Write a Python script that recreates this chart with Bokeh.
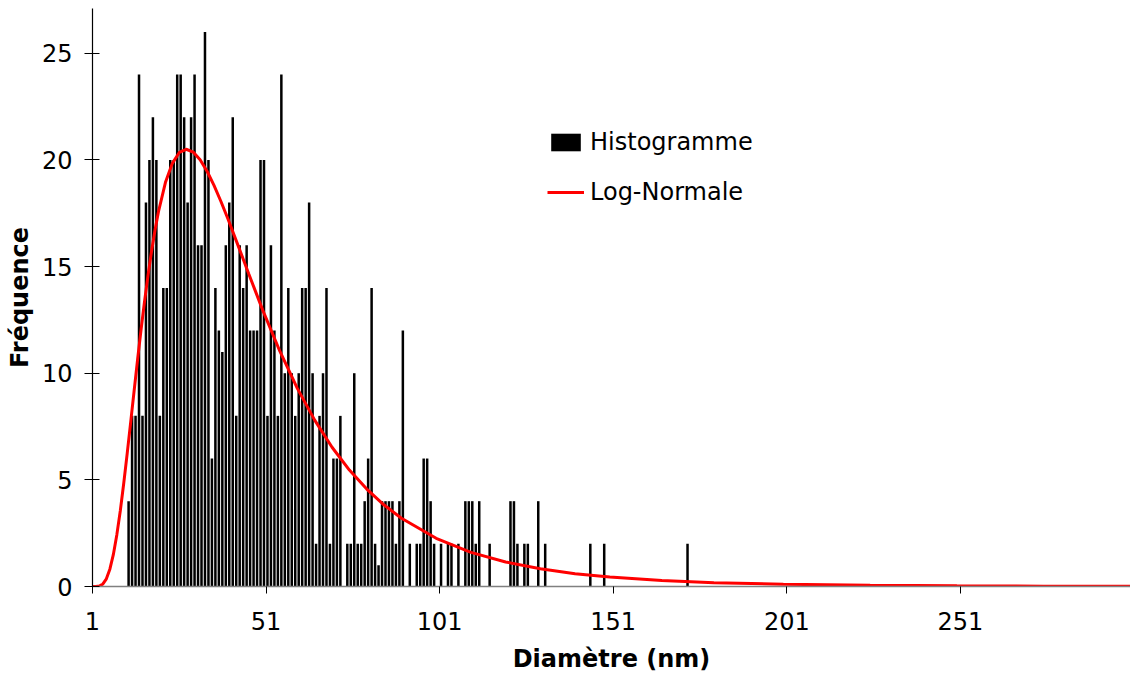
from bokeh.plotting import figure
from bokeh.models import Range1d, FixedTicker, Legend, LegendItem
from bokeh.embed import file_html
from bokeh.resources import INLINE

# Histogram: diameter (nm) and frequency
diametre = list(range(11, 173))
frequence = [
    4, 8, 8, 24, 8, 18, 20, 22, 20, 8,          # 11-20
    14, 14, 20, 20, 24, 24, 22, 18, 22, 24,     # 21-30
    16, 16, 26, 20, 6, 14, 12, 11, 16, 18,      # 31-40
    22, 8, 16, 14, 16, 12, 12, 12, 20, 20,      # 41-50
    8, 16, 12, 8, 24, 10, 14, 10, 8, 10,        # 51-60
    14, 14, 18, 10, 2, 8, 10, 14, 2, 6,         # 61-70
    6, 8, 0, 2, 2, 10, 2, 2, 4, 6,              # 71-80
    14, 2, 1, 4, 4, 4, 4, 2, 4, 12,             # 81-90
    0, 2, 0, 2, 2, 6, 6, 4, 2, 0,               # 91-100
    2, 0, 2, 2, 0, 2, 0, 4, 4, 4,               # 101-110
    2, 4, 0, 0, 2, 0, 0, 0, 0, 0,               # 111-120
    4, 4, 2, 0, 2, 2, 0, 0, 4, 0,               # 121-130
    2, 0, 0, 0, 0, 0, 0, 0, 0, 0,               # 131-140
    0, 0, 0, 2, 0, 0, 0, 2, 0, 0,               # 141-150
    0, 0, 0, 0, 0, 0, 0, 0, 0, 0,               # 151-160
    0, 0, 0, 0, 0, 0, 0, 0, 0, 0,               # 161-170
    0, 2,                                       # 171-172
]

# Log-normal curve, points
courbe_d = [1, 2, 3, 4, 5, 6, 7, 8, 9, 10, 11, 12, 13, 14, 15, 16, 17, 18, 19, 20,
            22, 24, 26, 28, 30, 32, 34, 36, 38, 40, 43, 46, 50, 55, 60, 65, 70, 75,
            80, 85, 90, 100, 110, 120, 130, 140, 150, 165, 180, 200, 225, 250, 275, 300]
courbe_v = [0.0, 0.0, 0.02, 0.12, 0.36, 0.81, 1.49, 2.42, 3.54, 4.84, 6.24, 7.71, 9.19,
            10.66, 12.06, 13.38, 14.6, 15.71, 16.7, 17.57, 18.94, 19.84, 20.35, 20.5,
            20.37, 20.01, 19.47, 18.81, 18.05, 17.24, 15.96, 14.66, 12.97, 11.02, 9.29,
            7.8, 6.53, 5.46, 4.57, 3.82, 3.2, 2.26, 1.6, 1.15, 0.83, 0.6, 0.44, 0.28,
            0.18, 0.11, 0.055, 0.03, 0.017, 0.01]

x_ticks = [1, 51, 101, 151, 201, 251]
y_ticks = [0, 5, 10, 15, 20, 25]

FONT = "DejaVu Sans"

p = figure(width=1130, height=675, output_backend="svg", toolbar_location=None,
           x_range=Range1d(1, 300), y_range=Range1d(0, 27.1),
           min_border_left=92, min_border_right=0, min_border_top=8, min_border_bottom=89)
p.outline_line_color = None
p.grid.visible = False
p.background_fill_color = "white"
p.border_fill_color = "white"

bar_x = [d + 0.4 for d in diametre]
bars = p.vbar(x=bar_x, top=frequence, bottom=0, width=0.72,
              fill_color="black", line_color=None)
curve = p.line(courbe_d, courbe_v, line_color="#FF0000", line_width=3)

xa = p.xaxis[0]
xa.ticker = FixedTicker(ticks=x_ticks)
xa.axis_line_color = "#808080"
xa.axis_line_width = 1.5
xa.major_tick_line_color = "black"
xa.major_tick_out = 7
xa.major_tick_in = 0
xa.minor_tick_line_color = None
xa.major_label_text_font = FONT
xa.major_label_text_font_size = "24px"
xa.major_label_text_color = "black"
xa.major_label_standoff = 18
xa.axis_label = "Diamètre (nm)"
xa.axis_label_text_font = FONT
xa.axis_label_text_font_size = "24px"
xa.axis_label_text_font_style = "bold"
xa.axis_label_text_color = "black"
xa.axis_label_standoff = 12

ya = p.yaxis[0]
ya.ticker = FixedTicker(ticks=y_ticks)
ya.axis_line_color = "black"
ya.axis_line_width = 1.2
ya.major_tick_line_color = "black"
ya.major_tick_out = 8
ya.major_tick_in = 7
ya.minor_tick_line_color = None
ya.major_label_text_font = FONT
ya.major_label_text_font_size = "24px"
ya.major_label_text_color = "black"
ya.major_label_standoff = 12
ya.axis_label = "Fréquence"
ya.axis_label_text_font = FONT
ya.axis_label_text_font_size = "24px"
ya.axis_label_text_font_style = "bold"
ya.axis_label_text_color = "black"
ya.axis_label_standoff = 5

legend = Legend(items=[LegendItem(label="Histogramme", renderers=[bars]),
                       LegendItem(label="Log-Normale", renderers=[curve])],
                location=(455, 380), glyph_width=37, glyph_height=22,
                label_standoff=6, spacing=22, padding=0, margin=0,
                label_text_font=FONT, label_text_font_size="24px",
                label_text_color="black",
                border_line_alpha=0, background_fill_alpha=0)
p.add_layout(legend)

open("out.html", "w").write(file_html(p, INLINE))
